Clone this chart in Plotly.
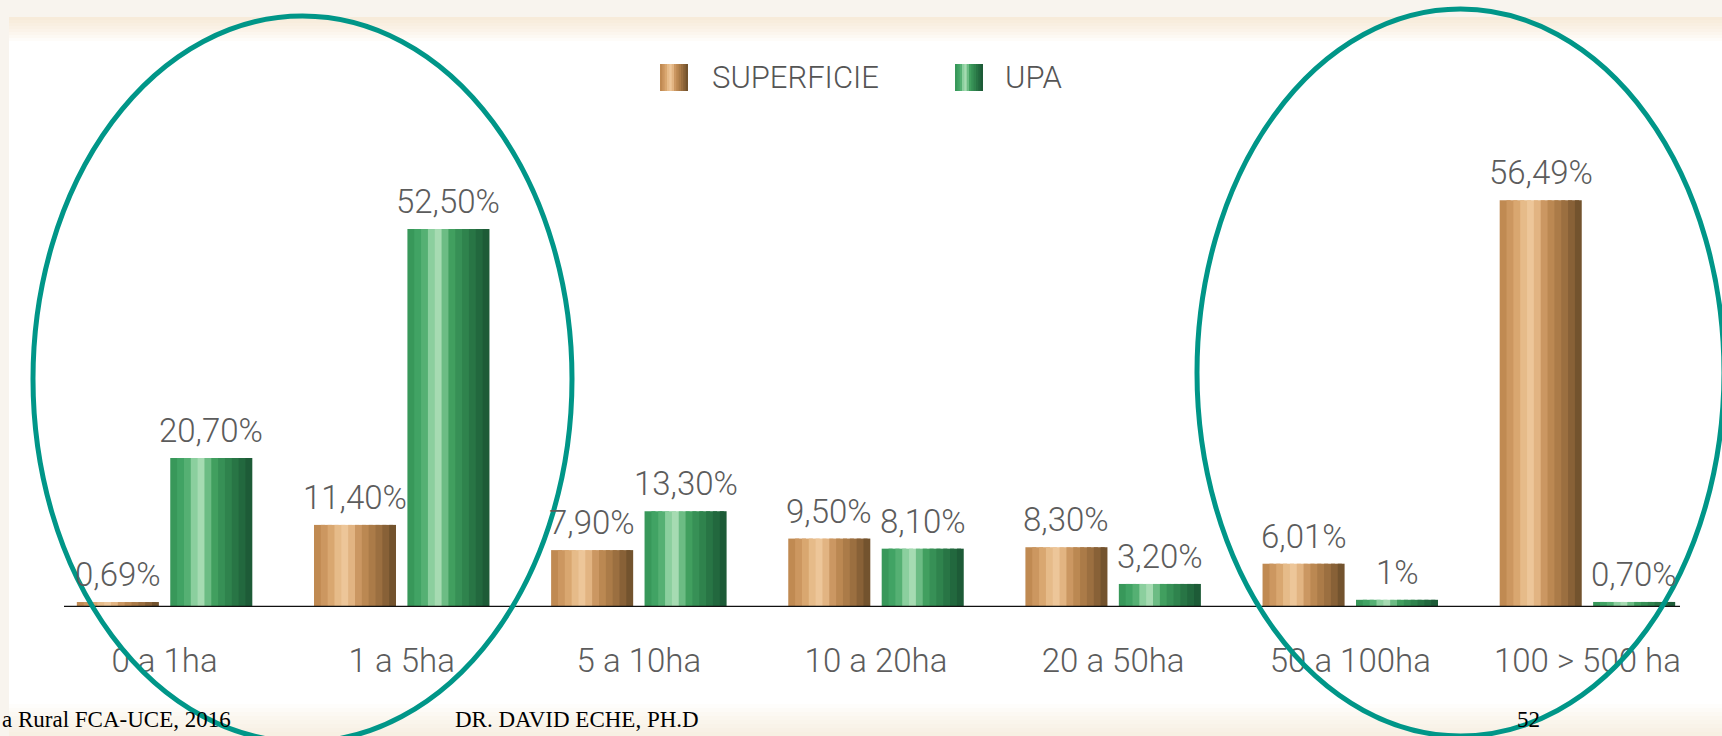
import plotly.graph_objects as go

# ---------------- data ----------------
categories = ["0 a 1ha", "1 a 5ha", "5 a 10ha", "10 a 20ha", "20 a 50ha", "50 a 100ha", "100 > 500 ha"]
superficie = [0.69, 11.40, 7.90, 9.50, 8.30, 6.01, 56.49]
upa = [20.70, 52.50, 13.30, 8.10, 3.20, 1.00, 0.70]
superficie_labels = ["0,69%", "11,40%", "7,90%", "9,50%", "8,30%", "6,01%", "56,49%"]
upa_labels = ["20,70%", "52,50%", "13,30%", "8,10%", "3,20%", "1%", "0,70%"]
series_names = ["SUPERFICIE", "UPA"]

# ---------------- styling ----------------
W, H = 1722, 736
L, R, T, B = 46, 16, 100, 129

def px(x):
    return (x - L) / (W - L - R)

def py(y):
    return 1 - (y - T) / (H - T - B)

brown_strips = ["#c08a52", "#cc9760", "#d9a770", "#e6bb89", "#edc699", "#e2b482",
                "#cb9762", "#bb8852", "#ab7b48", "#9b6f40", "#886137", "#73532e"]
green_strips = ["#38985a", "#41a364", "#55b073", "#8bcf9e", "#a6dbb2", "#6cbc84",
                "#419f5f", "#379056", "#2f834d", "#287545", "#22683e", "#1d5b37"]

bar_w = 0.346
half_slot = 0.197
offsets = [-half_slot - bar_w / 2, half_slot - bar_w / 2]
N = len(brown_strips)
sw = bar_w / N
label_font = dict(family="Roboto, Liberation Sans, Arial", size=33, color="#5c5c5c", weight=300)

x_idx = list(range(len(categories)))
fig = go.Figure()

for s, (vals, strips) in enumerate([(superficie, brown_strips), (upa, green_strips)]):
    for i, col in enumerate(strips):
        fig.add_trace(go.Bar(
            x=x_idx, y=vals, name=series_names[s],
            width=sw * (1.6 if i < N - 1 else 1.0), offset=offsets[s] + i * sw,
            marker=dict(color=col, line=dict(width=0)),
            showlegend=False,
            hoverinfo="y+name" if i == N // 2 else "skip",
        ))

annotations = []
for s, (vals, labels) in enumerate([(superficie, superficie_labels), (upa, upa_labels)]):
    for j, (v, lab) in enumerate(zip(vals, labels)):
        annotations.append(dict(
            x=j + offsets[s] + bar_w / 2, y=v, xref="x", yref="y",
            text=lab, showarrow=False, yanchor="bottom", xanchor="center",
            yshift=6, font=label_font,
        ))

# legend (manual, large gradient squares)
legend_items = [(660, 688, brown_strips, "SUPERFICIE", 710), (955, 983, green_strips, "UPA", 1003)]
shapes = []
for x0, x1, strips, name, tx in legend_items:
    lw = (x1 - x0) / len(strips)
    for i, col in enumerate(strips):
        shapes.append(dict(type="rect", xref="paper", yref="paper",
                           x0=px(x0 + i * lw), x1=px(x0 + (i + 1) * lw + (1 if i < len(strips) - 1 else 0)),
                           y0=py(91), y1=py(64), fillcolor=col, line=dict(width=0), layer="above"))
    annotations.append(dict(x=px(tx), y=py(77), xref="paper", yref="paper", text=name,
                            showarrow=False, xanchor="left", yanchor="middle",
                            font=dict(family="Roboto, Liberation Sans, Arial", size=31,
                                      color="#555555", weight=300)))

# slide background panel
shapes.append(dict(type="rect", xref="paper", yref="paper", x0=px(9), x1=px(1730),
                   y0=py(740), y1=py(17), fillcolor="#ffffff", line=dict(width=0), layer="below"))
for k in range(8):
    shapes.append(dict(type="rect", xref="paper", yref="paper", x0=px(9), x1=px(1730),
                       y0=py(17 + (k + 1) * 3), y1=py(17), fillcolor="#efe3c2",
                       opacity=0.09, line=dict(width=0), layer="below"))
    shapes.append(dict(type="rect", xref="paper", yref="paper", x0=px(9), x1=px(1730),
                       y0=py(740), y1=py(736 - (k + 1) * 4), fillcolor="#efe3c2",
                       opacity=0.07, line=dict(width=0), layer="below"))

# axis baseline
shapes.append(dict(type="line", xref="paper", yref="y", x0=px(64), x1=px(1680), y0=0, y1=0,
                   line=dict(color="#111111", width=2.5), layer="above"))

# teal ellipses
shapes.append(dict(type="circle", xref="paper", yref="paper", x0=px(33), x1=px(572),
                   y0=py(742), y1=py(16), line=dict(color="#009688", width=5), layer="above"))
shapes.append(dict(type="circle", xref="paper", yref="paper", x0=px(1197), x1=px(1724),
                   y0=py(736), y1=py(9), line=dict(color="#009688", width=5), layer="above"))

# footer
footer_font = dict(family="Liberation Serif, Times New Roman, serif", size=23, color="#000000")
annotations.append(dict(x=px(0), y=py(719), xref="paper", yref="paper", text="a Rural FCA-UCE, 2016",
                        showarrow=False, xanchor="left", yanchor="middle", font=footer_font))
annotations.append(dict(x=px(453), y=py(719), xref="paper", yref="paper", text="DR. DAVID ECHE, PH.D",
                        showarrow=False, xanchor="left", yanchor="middle", font=footer_font))
annotations.append(dict(x=px(1528), y=py(719), xref="paper", yref="paper", text="52",
                        showarrow=False, xanchor="center", yanchor="middle", font=footer_font))

fig.update_layout(
    width=W, height=H,
    margin=dict(l=L, r=R, t=T, b=B),
    paper_bgcolor="#f8f4ee", plot_bgcolor="rgba(0,0,0,0)",
    barmode="overlay",
    showlegend=False,
    xaxis=dict(range=[-0.5, len(categories) - 0.5], tickvals=x_idx, ticktext=categories,
               showgrid=False, zeroline=False, showline=False, automargin=False,
               ticks="outside", ticklen=24, tickcolor="rgba(0,0,0,0)",
               tickfont=label_font),
    yaxis=dict(range=[0, 70.4], visible=False, showgrid=False, zeroline=False, automargin=False),
    shapes=shapes,
    annotations=annotations,
)

fig.write_html("out.html", config={"displayModeBar": False},
               post_script="document.body.style.margin='0';document.body.style.overflow='hidden';")
